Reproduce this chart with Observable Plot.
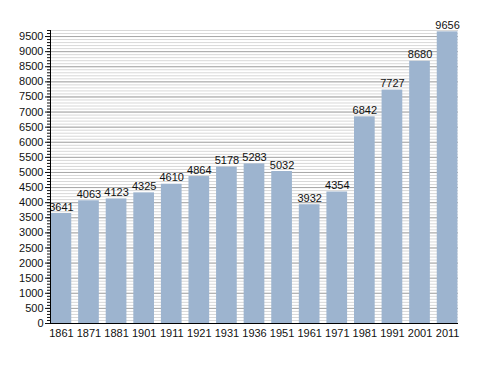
<!DOCTYPE html>
<html><head><meta charset="utf-8">
<script src="https://cdn.jsdelivr.net/npm/d3@7"></script>
<script src="https://cdn.jsdelivr.net/npm/@observablehq/plot@0.6"></script>
<style>body{margin:0;background:#fff;} svg{font-family:"Liberation Sans",Arial,sans-serif;}</style>
</head><body>
<div id="chart"></div>
<script>
const years = ["1861","1871","1881","1901","1911","1921","1931","1936","1951","1961","1971","1981","1991","2001","2011"];
const population = [3641,4063,4123,4325,4610,4864,5178,5283,5032,3932,4354,6842,7727,8680,9656];
const majorTicks = d3.range(0, 9501, 500);
const minorTicks = d3.range(0, 9701, 100);
const data = years.map((y, i) => ({year: y, value: population[i]}));

const chart = Plot.plot({
  width: 488,
  height: 373,
  marginLeft: 50,
  marginRight: 30,
  marginTop: 30,
  marginBottom: 50,
  style: {fontSize: "11px", fontFamily: "Liberation Sans, Arial, sans-serif", color: "#111"},
  x: {domain: years, paddingInner: 0.25, paddingOuter: 0.02, round: false, label: null},
  y: {domain: [0, 9700], label: null},
  marks: [
    Plot.gridY(minorTicks, {stroke: "#d8d8d8", strokeOpacity: 1}),
    Plot.gridY(majorTicks, {stroke: "#a8a8a8", strokeOpacity: 1}),
    Plot.barY(data, {x: "year", y: "value", fill: "#9db4cf"}),
    Plot.text(data, {x: "year", y: "value", text: d => String(d.value), lineAnchor: "bottom", dy: -3, fill: "#111", fontSize: 11}),
    Plot.axisY(minorTicks, {tickSize: 3, text: null, label: null, stroke: "#111"}),
    Plot.axisY(majorTicks, {tickSize: 5, tickPadding: 2, tickFormat: d => String(d), label: null, stroke: "#111", fill: "#111", fontSize: 11}),
    Plot.axisX({tickSize: 0, tickPadding: 6, label: null, fill: "#111", fontSize: 11}),
    Plot.ruleY([0], {stroke: "#000"}),
    Plot.frame({anchor: "left", stroke: "#000"})
  ]
});
document.getElementById("chart").appendChild(chart);
</script>
</body></html>
